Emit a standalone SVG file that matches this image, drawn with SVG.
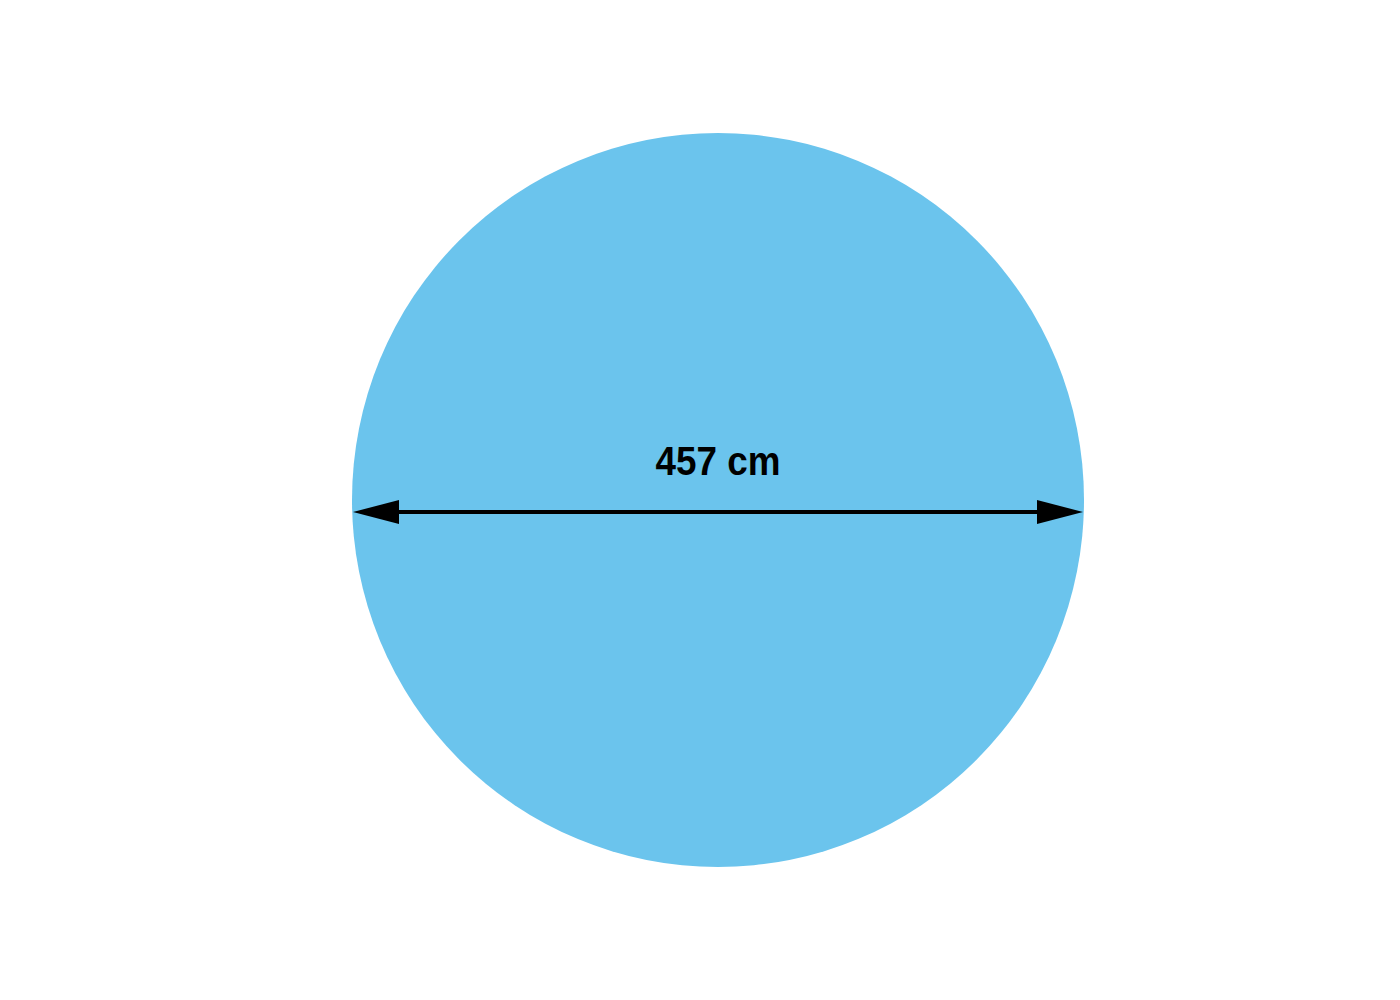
<svg xmlns="http://www.w3.org/2000/svg" width="1400" height="1000" viewBox="0 0 1400 1000">
<style>
.lbl{font-family:"Liberation Sans",Arial,sans-serif;font-weight:bold;font-size:40px;fill:#000}
</style>
<defs>
<marker id="ah" markerWidth="46" markerHeight="24" refX="36" refY="12" orient="auto-start-reverse" markerUnits="userSpaceOnUse">
<path d="M0,0 L46,12 L0,24 Z" fill="#000"/>
</marker>
</defs>
<rect width="1400" height="1000" fill="#fff"/>
<g id="circle">
<ellipse cx="718" cy="500" rx="366" ry="367" fill="#6bc4ed"/>
</g>
<g id="connectors">
<line x1="363" y1="512" x2="1073" y2="512" stroke="#000" stroke-width="4" marker-start="url(#ah)" marker-end="url(#ah)"/>
</g>
<g id="label">
<text class="lbl" x="718" y="475" text-anchor="middle" textLength="125" lengthAdjust="spacingAndGlyphs">457 cm</text>
</g>
</svg>
